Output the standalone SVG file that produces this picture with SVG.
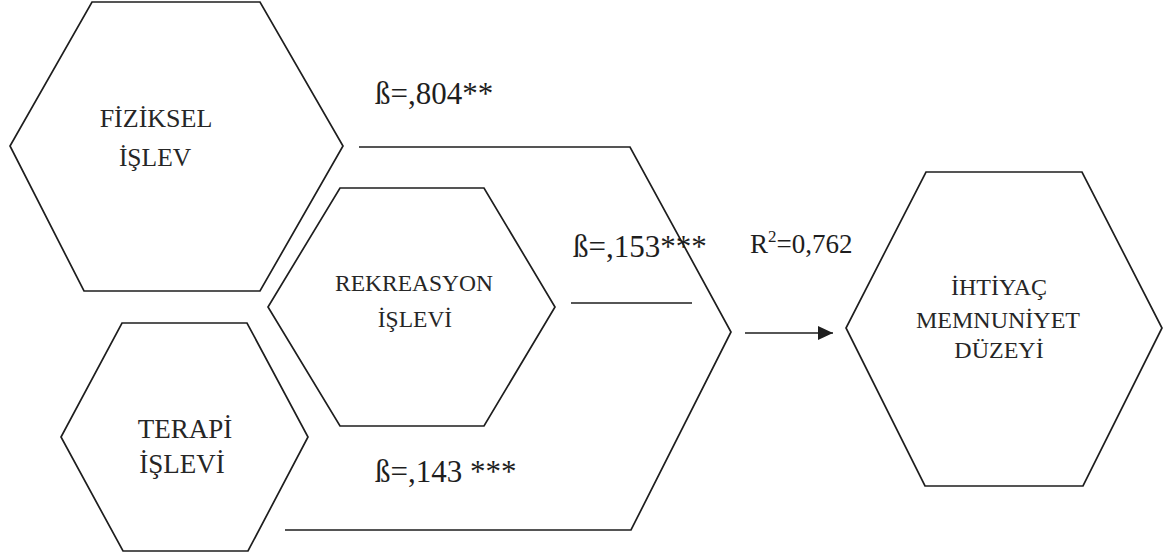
<svg xmlns="http://www.w3.org/2000/svg" width="1169" height="557" viewBox="0 0 1169 557">
  <style>
    .hex { fill: #ffffff; stroke: #1e1e1e; stroke-width: 1.7; stroke-linejoin: miter; }
    .conn { fill: none; stroke: #1e1e1e; stroke-width: 1.7; }
    .node-label { font-family: "Liberation Serif", "Times New Roman", serif; font-size: 24px; fill: #262626; text-anchor: middle; }
    .beta { font-family: "Liberation Serif", "Times New Roman", serif; font-size: 31px; fill: #1e1e1e; }
    .rsq { font-family: "Liberation Serif", "Times New Roman", serif; font-size: 27px; fill: #1e1e1e; }
  </style>
  <defs>
    <marker id="arrowhead" viewBox="0 0 15 14" refX="15" refY="7" markerWidth="15" markerHeight="14" markerUnits="userSpaceOnUse" orient="auto">
      <polygon points="0,0 15,7 0,14" fill="#1e1e1e"/>
    </marker>
  </defs>
  <rect x="0" y="0" width="1169" height="557" fill="#ffffff"/>

  <g id="connectors">
    <polyline class="conn" points="359,147 630,147 731,332 631,530 285,530"/>
    <line class="conn" x1="571" y1="303" x2="692" y2="303"/>
    <line class="conn" x1="745" y1="333" x2="833" y2="333" marker-end="url(#arrowhead)"/>
    <text class="beta" x="375" y="104">ß=,804**</text>
    <text class="beta" x="573" y="257">ß=,153***</text>
    <text class="beta" x="375" y="482">ß=,143 ***</text>
    <text class="rsq" x="750" y="253">R<tspan font-size="17" dy="-11">2</tspan><tspan dy="11">=0,762</tspan></text>
  </g>

  <g id="node-fiziksel">
    <polygon class="hex" points="92,2 260,2 343,146 260,291 84,291 10,146"/>
    <text class="node-label" x="156" y="127" style="font-size:26px">FİZİKSEL</text>
    <text class="node-label" x="155" y="166" style="font-size:25.5px">İŞLEV</text>
  </g>

  <g id="node-rekreasyon">
    <polygon class="hex" points="340,188 484,188 555,307 484,426 340,426 268,307"/>
    <text class="node-label" x="414" y="291" style="font-size:23.5px">REKREASYON</text>
    <text class="node-label" x="415" y="327" style="font-size:23.5px">İŞLEVİ</text>
  </g>

  <g id="node-terapi">
    <polygon class="hex" points="122,323 247,323 308,437 248,551 123,551 61,437"/>
    <text class="node-label" x="185" y="438" style="font-size:27px">TERAPİ</text>
    <text class="node-label" x="182" y="473" style="font-size:27px">İŞLEVİ</text>
  </g>

  <g id="node-ihtiyac">
    <polygon class="hex" points="926,172 1082,172 1162,328 1083,486 925,486 846,328"/>
    <text class="node-label" x="999" y="295">İHTİYAÇ</text>
    <text class="node-label" x="998" y="328">MEMNUNİYET</text>
    <text class="node-label" x="999" y="358">DÜZEYİ</text>
  </g>
</svg>
